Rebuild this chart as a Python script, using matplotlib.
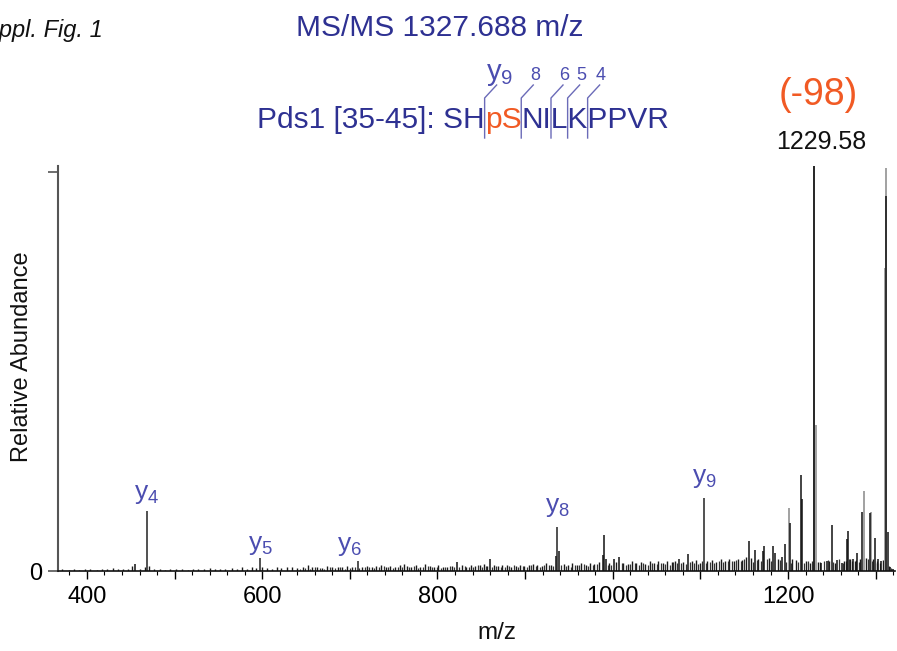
import matplotlib
matplotlib.use("Agg")
import matplotlib.pyplot as plt
from matplotlib.ticker import MultipleLocator, FuncFormatter
from matplotlib.font_manager import FontProperties

plt.rcParams["font.family"] = "Liberation Sans"
plt.rcParams["mathtext.fontset"] = "custom"
plt.rcParams["mathtext.rm"] = "Liberation Sans"
plt.rcParams["mathtext.it"] = "Liberation Sans:italic"

W, H = 897, 651

# precursor and base peak
precursor_mz = 1327.688
base_mz = 1229.58
base_int = 101.5
neutral_loss = "(-98)"

# assigned y ions
ion_labels = ["4", "5", "6", "8", "9"]
ion_mz = [468.3, 597.0, 709.3, 936.8, 1104.2]
ion_int = [15.0, 3.2, 2.6, 11.0, 18.2]

# other prominent peaks (dark)
peak_mz = [1214.4, 1215.5, 1201.8, 1250.0, 1268.5, 1267.0, 1284.6, 1293.3,
           1299.0, 1311.5, 1313.5, 1155.0, 1162.6, 1173.0, 1171.5, 1183.0,
           1185.0, 1196.0, 1193.0, 990.0, 988.5, 992.0, 935.3, 938.5, 1001.0,
           1007.0, 1075.8, 1085.7, 822.6, 860.0, 455.0, 1238.0, 1244.0,
           1256.0, 1261.0, 1274.0, 1279.0, 1303.0, 1306.0, 1316.0, 1320.0]
peak_int = [24.0, 18.0, 12.0, 11.5, 10.0, 8.0, 14.7, 14.5,
            8.2, 94.0, 9.7, 7.5, 5.2, 6.3, 5.0, 6.3,
            4.5, 6.8, 3.5, 9.0, 4.0, 3.0, 3.7, 5.0, 3.0,
            3.6, 3.0, 4.2, 2.3, 3.0, 1.8, 2.0, 2.5,
            2.8, 2.0, 3.0, 4.5, 3.0, 2.5, 1.0, 0.6]

# lighter (grey) peaks
grey_mz = [1231.5, 1200.7, 1286.9, 1294.5, 1310.3, 1311.8]
grey_int = [36.5, 15.7, 20.0, 14.7, 76.0, 101.0]

# low-level background
noise_mz = [372, 379, 385, 391, 398, 404, 411, 417, 423, 430, 436, 441, 447,
            452, 460, 466, 471, 476, 483, 489, 495, 502, 509, 515, 521, 527,
            534, 540, 546, 552, 558, 565, 571, 577, 583, 588, 593, 600, 605,
            611, 617, 622, 628, 634, 640, 646, 652, 657, 663, 668, 674, 680,
            686, 691, 697, 703, 714, 719, 725, 730, 736, 741, 746, 752, 757,
            762, 765, 770, 775, 780, 786, 791, 796, 801, 806, 811, 816, 828,
            833, 838, 843, 848, 853, 857, 864, 869, 874, 879, 884, 889, 894,
            899, 904, 909, 914, 919, 924, 929, 944, 949, 954, 959, 964, 969,
            974, 979, 984, 996, 1004, 1012, 1017, 1022, 1027, 1032, 1037,
            1042, 1047, 1052, 1057, 1062, 1067, 1071, 1080, 1090, 1095, 1099,
            1108, 1113, 1118, 1123, 1128, 1133, 1138, 1143, 1148, 1152, 1158,
            1166, 1178, 1188, 1205, 1209, 1220, 1225, 1234, 1247, 1253, 1264,
            1271, 1276, 1282, 1289, 1297, 1302, 1308]
noise_int = [0.4, 0.3, 0.5, 0.3, 0.4, 0.6, 0.3, 0.5, 0.4, 0.7, 0.4, 0.6, 0.5,
             1.2, 0.5, 0.9, 1.2, 0.4, 0.5, 0.3, 0.6, 0.4, 0.5, 0.3, 0.6, 0.4,
             0.5, 0.7, 0.4, 0.6, 0.5, 0.8, 0.5, 0.9, 0.6, 1.0, 0.7, 1.0, 0.8,
             0.6, 1.1, 0.7, 0.9, 1.0, 0.8, 1.0, 1.5, 0.9, 1.0, 0.8, 1.2, 1.0,
             1.1, 0.9, 1.3, 1.0, 1.1, 1.3, 1.0, 1.2, 1.5, 1.0, 1.3, 1.1, 1.4,
             1.7, 1.3, 1.1, 1.4, 1.0, 1.8, 1.2, 1.0, 1.4, 1.1, 1.0, 1.3, 1.4,
             1.1, 1.6, 1.2, 1.5, 1.7, 1.3, 1.5, 1.2, 1.6, 1.4, 1.1, 1.3, 1.6,
             1.2, 1.5, 1.8, 1.4, 1.3, 2.0, 1.5, 1.7, 1.4, 2.1, 1.6, 1.9, 1.5,
             2.0, 1.8, 2.2, 1.9, 2.3, 2.1, 1.7, 2.4, 1.9, 2.3, 1.8, 2.5, 2.1,
             2.4, 1.9, 2.6, 2.2, 2.5, 2.3, 2.5, 2.8, 2.1, 2.4, 2.7, 2.2, 2.9,
             2.5, 3.1, 2.6, 3.0, 2.8, 3.4, 3.3, 2.9, 3.2, 2.9, 3.1, 2.7, 2.4,
             2.1, 2.3, 2.5, 1.9, 2.6, 3.1, 2.4, 2.9, 3.3, 2.9, 2.1, 2.7]

# second, interleaved set of background peaks above m/z 640
noise2_mz = [643, 649, 655, 660, 666, 671, 677, 683, 689, 694,
             700, 706, 711, 717, 722, 728, 733, 739, 744, 749,
             755, 760, 768, 773, 778, 783, 789, 794, 799, 804,
             809, 814, 819, 825, 831, 836, 841, 846, 851, 855,
             862, 867, 872, 877, 882, 887, 892, 897, 902, 907,
             912, 917, 922, 927, 932, 941, 947, 952, 957, 962,
             967, 972, 977, 982, 994, 998, 1010, 1015, 1020, 1025,
             1030, 1035, 1040, 1045, 1050, 1055, 1060, 1065, 1069, 1073,
             1078, 1083, 1088, 1093, 1097, 1102, 1106, 1111, 1116, 1121,
             1126, 1131, 1136, 1141, 1146, 1150, 1160, 1164, 1169, 1176,
             1181, 1191, 1198, 1203, 1211, 1218, 1223, 1227, 1236, 1241,
             1245, 1251, 1258, 1263, 1266, 1270, 1273, 1278, 1281, 1291,
             1296, 1301, 1305, 1315, 1318]
noise2_int = [0.6, 0.8, 0.5, 0.9, 0.7, 0.6, 1.0, 0.7, 0.9, 0.6,
              0.8, 1.0, 0.7, 0.9, 1.1, 0.8, 1.0, 1.2, 0.9, 0.8,
              1.1, 0.9, 1.0, 1.3, 0.8, 1.0, 1.2, 0.9, 1.1, 0.8,
              1.0, 1.2, 0.9, 1.1, 1.3, 1.0, 0.9, 1.4, 1.1, 1.2,
              1.0, 1.3, 1.1, 0.9, 1.2, 1.4, 1.0, 1.3, 1.1, 1.5,
              1.2, 1.0, 1.4, 1.6, 1.2, 1.5, 1.3, 1.1, 1.6, 1.4,
              1.7, 1.3, 1.5, 1.8, 1.6, 1.4, 1.9, 1.5, 1.7, 2.0,
              1.6, 1.9, 1.5, 2.1, 1.7, 2.0, 1.8, 1.6, 2.2, 1.9,
              2.1, 1.8, 2.3, 2.0, 1.7, 2.4, 2.0, 2.2, 1.9, 2.5,
              2.2, 2.6, 2.4, 2.8, 2.5, 2.9, 2.3, 2.7, 2.6, 3.0,
              2.4, 2.8, 2.2, 2.0, 2.3, 2.1, 2.6, 2.4, 2.2, 2.5,
              2.7, 2.3, 2.9, 2.1, 2.6, 3.0, 2.5, 2.8, 2.2, 3.1,
              2.6, 2.4, 2.0, 1.2, 0.8]

# peptide sequence and the y-ion cleavage sites
peptide_name = "Pds1 [35-45]: "
residues = ["S", "H", "pS", "N", "I", "L", "K", "P", "P", "V", "R"]
cleavage_ions = ["9", "8", "6", "5", "4"]

blue = "#2e3192"
ion_blue = "#4b4db0"
line_blue = "#6b6bb8"
orange = "#f15a24"


def fx(px):
    return px / W


def fy(py):
    return 1 - py / H


fig = plt.figure(figsize=(W / 100, H / 100), dpi=100)
ax = fig.add_axes([fx(58), fy(571), (895 - 58) / W, (571 - 166) / H])

ax.vlines(noise_mz, 0, noise_int, color="#1a1a1a", lw=1.0)
ax.vlines(noise2_mz, 0, noise2_int, color="#333333", lw=0.9)
ax.vlines(grey_mz, 0, grey_int, color="#9a9a9a", lw=1.3)
ax.vlines(peak_mz, 0, peak_int, color="#111111", lw=1.1)
ax.vlines(ion_mz, 0, ion_int, color="#222222", lw=1.1)
ax.vlines([base_mz], 0, [base_int], color="#000000", lw=1.2)

ax.set_xlim(367, 1322)
ax.set_ylim(0, 101.5)

for s in ["top", "right"]:
    ax.spines[s].set_visible(False)
ax.spines["left"].set_color("#555555")
ax.spines["left"].set_linewidth(1.5)
ax.spines["bottom"].set_color("#111111")
ax.spines["bottom"].set_linewidth(1.2)

ax.xaxis.set_major_locator(MultipleLocator(100))
ax.xaxis.set_minor_locator(MultipleLocator(20))
ax.xaxis.set_major_formatter(FuncFormatter(lambda v, p: f"{int(v)}" if v % 200 == 0 else ""))
ax.set_yticks([0, 100])
ax.set_yticklabels(["0", ""])
ax.tick_params(axis="y", length=7, width=1.2, color="#555555", labelsize=17, pad=4)
ax.tick_params(axis="x", which="major", length=6, width=1, labelsize=17, pad=5)
ax.tick_params(axis="x", which="minor", length=3, width=0.8)

ax.set_xlabel("m/z", fontsize=17.5, color="#111111")
ax.xaxis.set_label_coords(0.524, -0.125)
ax.set_ylabel("Relative Abundance", fontsize=17, color="#111111")
ax.yaxis.set_label_coords(-0.03, 0.53)

# y-ion labels above their peaks
label_offsets = [(0, 4), (1, 1), (-6, 2), (0, 6), (0, 6)]
for lab, mz, it, (dx, dy) in zip(ion_labels, ion_mz, ion_int, label_offsets):
    ax.annotate(r"y$_\mathregular{%s}$" % lab, xy=(mz, it), xytext=(dx, dy),
                textcoords="offset points", ha="center", va="bottom",
                fontsize=19, color=ion_blue)

# header texts
fig.text(fx(103), fy(37), "Suppl. Fig. 1", fontsize=17, style="italic",
         ha="right", va="baseline", color="#111111")
fig.text(fx(439.5), fy(36), f"MS/MS {precursor_mz:.3f} m/z", fontsize=21.5,
         ha="center", va="baseline", color=blue)
fig.text(fx(818), fy(105), neutral_loss, fontsize=27, ha="center",
         va="baseline", color=orange)
fig.text(fx(821), fy(149), f"{base_mz:.2f}", fontsize=18, ha="center",
         va="baseline", color="#111111")

# peptide sequence, measured piece by piece so the cleavage marks land between residues
renderer = fig.canvas.get_renderer()
fp = FontProperties(family="Liberation Sans", size=21.5)


def width_px(s):
    w, h, d = renderer.get_text_width_height_descent(s, fp, ismath=False)
    return w


x0, base_y = 257, 128
blue_1 = peptide_name + "".join(residues[:2])
red = residues[2]
blue_2 = "".join(residues[3:])
fig.text(fx(x0), fy(base_y), blue_1, fontproperties=fp, color=blue, va="baseline")
fig.text(fx(x0 + width_px(blue_1)), fy(base_y), red, fontproperties=fp,
         color=orange, va="baseline")
fig.text(fx(x0 + width_px(blue_1 + red)), fy(base_y), blue_2, fontproperties=fp,
         color=blue, va="baseline")

for ion in cleavage_ions:
    n_before = len(residues) - int(ion)
    b = x0 + width_px(peptide_name + "".join(residues[:n_before]))
    fig.add_artist(plt.Line2D([fx(b), fx(b), fx(b + 12)], [fy(138), fy(98), fy(85)],
                              color=line_blue, lw=1.0))
    if ion == cleavage_ions[0]:
        fig.text(fx(b + 1), fy(80), r"y$_\mathregular{%s}$" % ion, fontsize=21,
                 color=ion_blue, ha="left", va="baseline")
    else:
        fig.text(fx(b + 13.5), fy(84), ion, fontsize=13, color=ion_blue,
                 ha="center", va="bottom")

fig.savefig("out.png", dpi=100)
